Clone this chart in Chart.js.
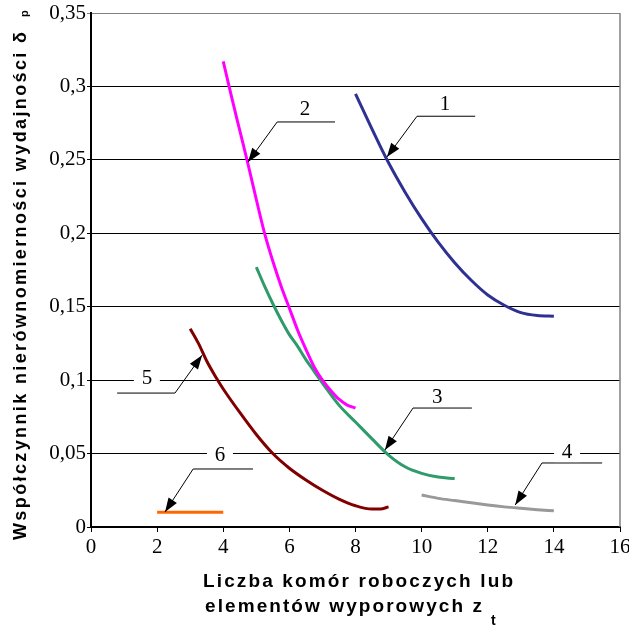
<!DOCTYPE html>
<html>
<head>
<meta charset="utf-8">
<script src="https://cdn.jsdelivr.net/npm/chart.js@4"></script>
<style>
  html, body { margin: 0; padding: 0; background: #fff; }
  canvas { display: block; }
</style>
</head>
<body>
<canvas id="chart" width="629" height="629"></canvas>
<script>
// tick labels
const xTicks = ['0', '2', '4', '6', '8', '10', '12', '14', '16'];
const yTicks = ['0', '0,05', '0,1', '0,15', '0,2', '0,25', '0,3', '0,35'];

// curve 1
const z1 = [8, 8.5, 9, 9.5, 10, 10.5, 11, 11.5, 12, 12.5, 13, 13.5, 14];
const d1 = [0.295, 0.271, 0.248, 0.228, 0.21, 0.194, 0.18, 0.168, 0.158, 0.151, 0.146, 0.144, 0.1435];
// curve 2
const z2 = [4, 4.25, 4.5, 4.75, 5, 5.25, 5.5, 5.75, 6, 6.25, 6.5, 6.75, 7, 7.25, 7.5, 7.75, 8];
const d2 = [0.317, 0.293, 0.27, 0.247, 0.223, 0.2, 0.181, 0.164, 0.149, 0.134, 0.121, 0.109, 0.1, 0.093, 0.087, 0.083, 0.081];
// curve 3
const z3 = [5, 5.25, 5.5, 5.75, 6, 6.25, 6.5, 6.75, 7, 7.5, 8, 8.5, 9, 9.5, 10, 10.5, 11];
const d3 = [0.177, 0.164, 0.152, 0.141, 0.131, 0.123, 0.114, 0.106, 0.098, 0.083, 0.0715, 0.06, 0.049, 0.041, 0.0365, 0.034, 0.033];
// curve 4
const z4 = [10, 10.5, 11, 11.5, 12, 12.5, 13, 13.5, 14];
const d4 = [0.0218, 0.0195, 0.018, 0.0165, 0.015, 0.0137, 0.0127, 0.0118, 0.011];
// curve 5
const z5 = [3, 3.25, 3.5, 3.75, 4, 4.5, 5, 5.5, 6, 6.5, 7, 7.5, 8, 8.5, 8.75, 9];
const d5 = [0.135, 0.125, 0.113, 0.103, 0.094, 0.078, 0.063, 0.05, 0.04, 0.032, 0.025, 0.019, 0.0145, 0.0122, 0.0122, 0.0137];
// curve 6
const z6 = [2, 4];
const d6 = [0.01, 0.01];

const series = [
  { name: '1', x: z1, y: d1, color: '#2e3192' },
  { name: '2', x: z2, y: d2, color: '#ff00ff' },
  { name: '3', x: z3, y: d3, color: '#2f9a6b' },
  { name: '4', x: z4, y: d4, color: '#999999' },
  { name: '5', x: z5, y: d5, color: '#800000' },
  { name: '6', x: z6, y: d6, color: '#ff6600' }
];

// leader lines with arrows (in data units)
const notes = [
  { text: '1', lx: 10.71, ly: 0.288, hx0: 9.86, hx1: 11.62, hy: 0.2797, ex: 9.86, tx: 8.95, ty: 0.2519, box: false },
  { text: '2', lx: 6.47, ly: 0.2846, hx0: 5.63, hx1: 7.38, hy: 0.2758, ex: 5.63, tx: 4.75, ty: 0.2485, box: false },
  { text: '3', lx: 10.47, ly: 0.0885, hx0: 9.74, hx1: 11.52, hy: 0.081, ex: 9.74, tx: 8.89, ty: 0.0524, box: false },
  { text: '4', lx: 14.4, ly: 0.051, hx0: 13.64, hx1: 15.46, hy: 0.0436, ex: 13.64, tx: 12.83, ty: 0.015, box: true },
  { text: '5', lx: 1.69, ly: 0.101, hx0: 0.79, hx1: 2.54, hy: 0.0912, ex: 2.54, tx: 3.36, ty: 0.117, box: true },
  { text: '6', lx: 3.9, ly: 0.0487, hx0: 3.09, hx1: 4.9, hy: 0.0395, ex: 3.09, tx: 2.24, ty: 0.0102, box: true }
];

// draw a string with extra spacing so it fills the given width
function spacedText(ctx, str, x, y, width) {
  const chars = Array.from(str);
  let natural = 0;
  chars.forEach(ch => natural += ctx.measureText(ch).width);
  const gap = chars.length > 1 ? (width - natural) / (chars.length - 1) : 0;
  let pos = x;
  chars.forEach(ch => {
    ctx.fillText(ch, pos, y);
    pos += ctx.measureText(ch).width + gap;
  });
  return pos;
}

const extras = {
  id: 'extras',
  afterDatasetsDraw(chart) {
    const ctx = chart.ctx;
    const xs = chart.scales.x, ys = chart.scales.y;
    const area = chart.chartArea;

    // right frame
    ctx.save();
    ctx.strokeStyle = '#808080';
    ctx.lineWidth = 1.5;
    ctx.beginPath();
    ctx.moveTo(area.right, area.top);
    ctx.lineTo(area.right, area.bottom);
    ctx.stroke();
    ctx.restore();

    // annotations
    ctx.save();
    notes.forEach(n => {
      const hy = ys.getPixelForValue(n.hy);
      const ex = xs.getPixelForValue(n.ex);
      const tx = xs.getPixelForValue(n.tx), ty = ys.getPixelForValue(n.ty);
      ctx.strokeStyle = '#000';
      ctx.lineWidth = 1;
      ctx.beginPath();
      ctx.moveTo(xs.getPixelForValue(n.hx0), hy);
      ctx.lineTo(xs.getPixelForValue(n.hx1), hy);
      ctx.moveTo(ex, hy);
      ctx.lineTo(tx, ty);
      ctx.stroke();
      // arrow head
      const ang = Math.atan2(ty - hy, tx - ex);
      const len = 14, half = 5;
      ctx.fillStyle = '#000';
      ctx.beginPath();
      ctx.moveTo(tx, ty);
      ctx.lineTo(tx - len * Math.cos(ang) + half * Math.sin(ang), ty - len * Math.sin(ang) - half * Math.cos(ang));
      ctx.lineTo(tx - len * Math.cos(ang) - half * Math.sin(ang), ty - len * Math.sin(ang) + half * Math.cos(ang));
      ctx.closePath();
      ctx.fill();
      // label
      const lx = xs.getPixelForValue(n.lx), ly = ys.getPixelForValue(n.ly);
      if (n.box) {
        ctx.fillStyle = '#fff';
        ctx.fillRect(lx - 13, ly - 10, 26, 20);
      }
      ctx.fillStyle = '#000';
      ctx.font = '21px "Liberation Serif", serif';
      ctx.textAlign = 'center';
      ctx.textBaseline = 'middle';
      ctx.fillText(n.text, lx, ly);
    });
    ctx.restore();
  },
  afterDraw(chart) {
    const ctx = chart.ctx;
    ctx.save();
    ctx.fillStyle = '#000';
    ctx.textAlign = 'left';
    ctx.textBaseline = 'alphabetic';

    // y axis title (rotated)
    ctx.save();
    ctx.translate(26, 540);
    ctx.rotate(-Math.PI / 2);
    ctx.font = 'bold 18px "Liberation Sans", Arial, sans-serif';
    spacedText(ctx, 'Współczynnik nierównomierności wydajności δ', 0, 0, 508);
    ctx.font = 'bold 11px "Liberation Sans", Arial, sans-serif';
    ctx.fillText('p', 523, 2);
    ctx.restore();

    // x axis title
    ctx.font = 'bold 19px "Liberation Sans", Arial, sans-serif';
    spacedText(ctx, 'Liczba komór roboczych lub', 203, 587, 310);
    spacedText(ctx, 'elementów wyporowych z', 205, 612, 277);
    ctx.font = 'bold 14px "Liberation Sans", Arial, sans-serif';
    ctx.fillText('t', 491, 625);
    ctx.restore();
  }
};

new Chart(document.getElementById('chart'), {
  type: 'line',
  data: {
    datasets: series.map(s => ({
      label: s.name,
      data: s.x.map((v, i) => ({ x: v, y: s.y[i] })),
      borderColor: s.color,
      backgroundColor: s.color,
      borderWidth: 3,
      pointRadius: 0,
      fill: false,
      cubicInterpolationMode: 'monotone'
    }))
  },
  options: {
    responsive: false,
    animation: false,
    layout: { padding: { left: 0, top: 13, right: 9, bottom: 0 } },
    plugins: {
      legend: { display: false },
      tooltip: { enabled: false }
    },
    scales: {
      x: {
        type: 'linear',
        min: 0,
        max: 16,
        afterFit(scale) {
          scale.height = 102;
          scale.paddingLeft = 0;
          scale.paddingRight = 0;
        },
        ticks: {
          stepSize: 2,
          padding: 3,
          color: '#000',
          font: { family: '"Liberation Serif", serif', size: 21 },
          callback: (v, i) => xTicks[i]
        },
        grid: { drawOnChartArea: false, drawTicks: true, tickLength: 5, color: '#000' },
        border: { color: '#000', width: 2 }
      },
      y: {
        min: 0,
        max: 0.35,
        afterFit(scale) {
          scale.width = 91;
          scale.paddingTop = 0;
          scale.paddingBottom = 0;
        },
        ticks: {
          stepSize: 0.05,
          padding: 1,
          color: '#000',
          font: { family: '"Liberation Serif", serif', size: 21 },
          callback: (v, i) => yTicks[i]
        },
        grid: {
          color: c => (c.index === yTicks.length - 1 ? '#808080' : '#000'),
          lineWidth: 1,
          tickLength: 4
        },
        border: { color: '#000', width: 2 }
      }
    }
  },
  plugins: [extras]
});
</script>
</body>
</html>
